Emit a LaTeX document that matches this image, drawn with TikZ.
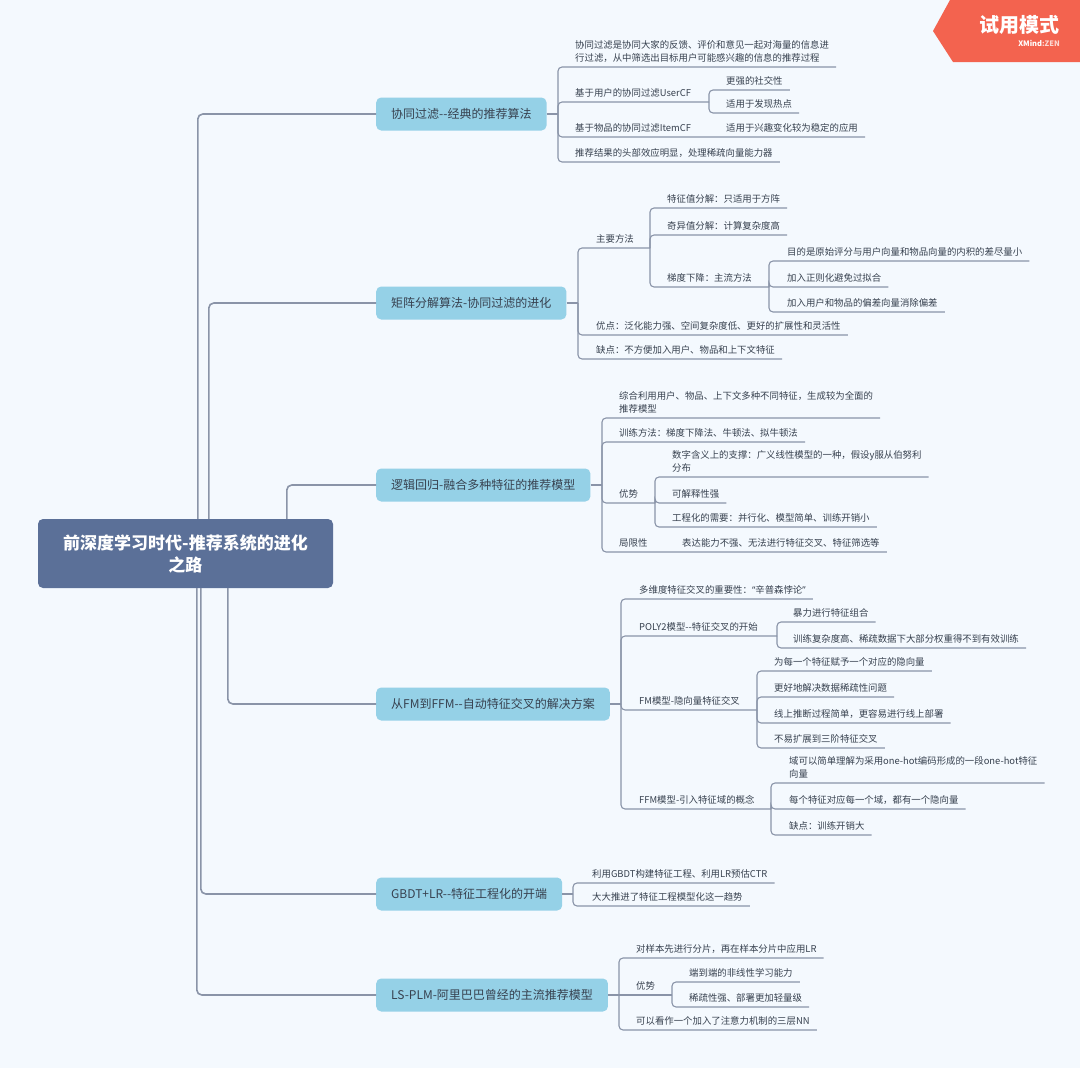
\documentclass[tikz,border=0pt]{standalone}
\usepackage{fontspec}
\setmainfont{Noto Sans CJK SC}
\newfontfamily\latinq{Noto Sans}
\definecolor{bg}{HTML}{F4F9FE}
\definecolor{rootc}{HTML}{5B7098}
\definecolor{mainc}{HTML}{95D1E7}
\definecolor{linec}{HTML}{8A94A8}
\definecolor{txt}{HTML}{37414F}
\definecolor{wm}{HTML}{F3634F}
\tikzset{
 leaf/.style={anchor=south west, inner xsep=7pt, inner ysep=0pt, text depth=5.5pt,
   font=\fontsize{9.4}{13}\selectfont, text=txt, align=left},
 branch/.style={anchor=west, fill=mainc, rounded corners=5pt, minimum height=33pt,
   inner xsep=15pt, inner ysep=0pt, font=\fontsize{12}{14}\selectfont, text=txt},
 rootbox/.style={fill=rootc, rounded corners=5pt, minimum width=295pt, minimum height=69pt,
   inner sep=0pt, font=\fontsize{17}{22}\selectfont\bfseries, text=white, align=center},
 mlink/.style={draw=linec, line width=1.6pt, rounded corners=5pt},
 slink/.style={draw=linec, line width=1.1pt, rounded corners=4pt},
}
\begin{document}
\begin{tikzpicture}[x=1pt,y=-1pt]
\fill[bg] (0,0) rectangle (1080,1068);
\useasboundingbox (0,0) rectangle (1080,1068);

% watermark
\fill[wm] (950,0) -- (1080,0) -- (1080,62) -- (953,62) -- (933,31) -- cycle;
\node[anchor=east, text=white, inner sep=0pt, font=\fontsize{20}{21}\selectfont\bfseries] (wm1) at (1060,25) {试用模式};
\node[anchor=east, text=white, inner sep=0pt, font=\fontsize{7.5}{8}\selectfont\bfseries] (wm2) at (1060,43) {XMind{\color{white!75!wm}:ZEN}};

% root and branches
\node[rootbox] (root) at (185.5,553.5) {前深度学习时代-推荐系统的进化\\之路};
\node[branch] (B1) at (376,114) {协同过滤-{}-经典的推荐算法};
\node[branch] (B2) at (376,303) {矩阵分解算法-协同过滤的进化};
\node[branch] (B3) at (376,485) {逻辑回归-融合多种特征的推荐模型};
\node[branch] (B4) at (376,704) {从FM到FFM-{}-自动特征交叉的解决方案};
\node[branch] (B5) at (376,894) {GBDT+LR-{}-特征工程化的开端};
\node[branch] (B6) at (376,995) {LS-PLM-阿里巴巴曾经的主流推荐模型};

\draw[mlink] ([xshift=160pt]root.north west) |- (B1.west);
\draw[mlink] ([xshift=171pt]root.north west) |- (B2.west);
\draw[mlink] ([xshift=249pt]root.north west) |- (B3.west);
\draw[mlink] ([xshift=190pt]root.south west) |- (B4.west);
\draw[mlink] ([xshift=163pt]root.south west) |- (B5.west);
\draw[mlink] ([xshift=159pt]root.south west) |- (B6.west);

% ---------- branch 1
\coordinate (j1) at (558,114);
\node[leaf] (a1) at (568,67) {协同过滤是协同大家的反馈、评价和意见一起对海量的信息进\\行过滤，从中筛选出目标用户可能感兴趣的信息的推荐过程};
\node[leaf] (a2) at (568,102) {基于用户的协同过滤UserCF};
\coordinate (a2j) at (709,102);
\node[leaf] (a2a) at (719,90) {更强的社交性};
\node[leaf] (a2b) at (719,113) {适用于发现热点};
\node[leaf] (a3) at (568,137) {基于物品的协同过滤ItemCF};
\node[leaf] (a3a) at (719,137) {适用于兴趣变化较为稳定的应用};
\node[leaf] (a4) at (568,162) {推荐结果的头部效应明显，处理稀疏向量能力器};
\draw[slink] (B1.east) -- (j1);
\draw[slink] (j1) |- (a1.south east);
\draw[slink] (j1) |- (a2j);
\draw[slink] (a2j) |- (a2a.south east);
\draw[slink] (a2j) |- (a2b.south east);
\draw[slink] (j1) |- (a3a.south east);
\draw[slink] (j1) |- (a4.south east);

% ---------- branch 2
\coordinate (j2) at (578,303);
\node[leaf] (b1) at (589,248) {主要方法};
\coordinate (b1j) at (650,248);
\node[leaf] (b1a) at (660,208) {特征值分解：只适用于方阵};
\node[leaf] (b1b) at (660,235) {奇异值分解：计算复杂度高};
\node[leaf] (b1c) at (660,287) {梯度下降：主流方法};
\coordinate (b1cj) at (769,287);
\node[leaf] (b1c1) at (780,261) {目的是原始评分与用户向量和物品向量的内积的差尽量小};
\node[leaf] (b1c2) at (780,287) {加入正则化避免过拟合};
\node[leaf] (b1c3) at (780,312) {加入用户和物品的偏差向量消除偏差};
\node[leaf] (b2) at (589,335) {优点：泛化能力强、空间复杂度低、更好的扩展性和灵活性};
\node[leaf] (b3) at (589,359) {缺点：不方便加入用户、物品和上下文特征};
\draw[slink] (B2.east) -- (j2);
\draw[slink] (j2) |- (b1j);
\draw[slink] (b1j) |- (b1a.south east);
\draw[slink] (b1j) |- (b1b.south east);
\draw[slink] (b1j) |- (b1cj);
\draw[slink] (b1cj) |- (b1c1.south east);
\draw[slink] (b1cj) |- (b1c2.south east);
\draw[slink] (b1cj) |- (b1c3.south east);
\draw[slink] (j2) |- (b2.south east);
\draw[slink] (j2) |- (b3.south east);

% ---------- branch 3
\coordinate (j3) at (602,485);
\node[leaf] (c1) at (612,418) {综合利用用户、物品、上下文多种不同特征，生成较为全面的\\推荐模型};
\node[leaf] (c2) at (612,442) {训练方法：梯度下降法、牛顿法、拟牛顿法};
\node[leaf] (c3) at (612,503) {优势};
\coordinate (c3j) at (655,503);
\node[leaf] (c3a) at (665,477) {数字含义上的支撑：广义线性模型的一种，假设y服从伯努利\\分布};
\node[leaf] (c3b) at (665,503) {可解释性强};
\node[leaf] (c3c) at (665,527) {工程化的需要：并行化、模型简单、训练开销小};
\node[leaf] (c4) at (612,552) {局限性};
\node[leaf] (c4a) at (675,552) {表达能力不强、无法进行特征交叉、特征筛选等};
\draw[slink] (B3.east) -- (j3);
\draw[slink] (j3) |- (c1.south east);
\draw[slink] (j3) |- (c2.south east);
\draw[slink] (j3) |- (c3j);
\draw[slink] (c3j) |- (c3a.south east);
\draw[slink] (c3j) |- (c3b.south east);
\draw[slink] (c3j) |- (c3c.south east);
\draw[slink] (j3) |- (c4a.south east);

% ---------- branch 4
\coordinate (j4) at (621,704);
\node[leaf] (d1) at (632,599) {多维度特征交叉的重要性：{\latinq “}辛普森悖论{\latinq ”}};
\node[leaf] (d2) at (632,636) {POLY2模型-{}-特征交叉的开始};
\coordinate (d2j) at (777,636);
\node[leaf] (d2a) at (786,622) {暴力进行特征组合};
\node[leaf] (d2b) at (786,648) {训练复杂度高、稀疏数据下大部分权重得不到有效训练};
\node[leaf] (d3) at (632,710) {FM模型-隐向量特征交叉};
\coordinate (d3j) at (757,710);
\node[leaf] (d3a) at (767,671) {为每一个特征赋予一个对应的隐向量};
\node[leaf] (d3b) at (767,697) {更好地解决数据稀疏性问题};
\node[leaf] (d3c) at (767,723) {线上推断过程简单，更容易进行线上部署};
\node[leaf] (d3d) at (767,748) {不易扩展到三阶特征交叉};
\node[leaf] (d4) at (632,809) {FFM模型-引入特征域的概念};
\coordinate (d4j) at (771,809);
\node[leaf] (d4a) at (782,783) {域可以简单理解为采用one-hot编码形成的一段one-hot特征\\向量};
\node[leaf] (d4b) at (782,809) {每个特征对应每一个域，都有一个隐向量};
\node[leaf] (d4c) at (782,835) {缺点：训练开销大};
\draw[slink] (B4.east) -- (j4);
\draw[slink] (j4) |- (d1.south east);
\draw[slink] (j4) |- (d2j);
\draw[slink] (d2j) |- (d2a.south east);
\draw[slink] (d2j) |- (d2b.south east);
\draw[slink] (j4) |- (d3j);
\draw[slink] (d3j) |- (d3a.south east);
\draw[slink] (d3j) |- (d3b.south east);
\draw[slink] (d3j) |- (d3c.south east);
\draw[slink] (d3j) |- (d3d.south east);
\draw[slink] (j4) |- (d4j);
\draw[slink] (d4j) |- (d4a.south east);
\draw[slink] (d4j) |- (d4b.south east);
\draw[slink] (d4j) |- (d4c.south east);

% ---------- branch 5
\coordinate (j5) at (573,894);
\node[leaf] (e1) at (585,883) {利用GBDT构建特征工程、利用LR预估CTR};
\node[leaf] (e2) at (585,906) {大大推进了特征工程模型化这一趋势};
\draw[slink] (B5.east) -- (j5);
\draw[slink] (j5) |- (e1.south east);
\draw[slink] (j5) |- (e2.south east);

% ---------- branch 6
\coordinate (j6) at (619,995);
\node[leaf] (f1) at (629,958) {对样本先进行分片，再在样本分片中应用LR};
\node[leaf] (f2) at (629,995) {优势};
\coordinate (f2j) at (672,995);
\node[leaf] (f2a) at (682,982) {端到端的非线性学习能力};
\node[leaf] (f2b) at (682,1007) {稀疏性强、部署更加轻量级};
\node[leaf] (f3) at (629,1030) {可以看作一个加入了注意力机制的三层NN};
\draw[slink] (B6.east) -- (j6);
\draw[slink] (j6) |- (f1.south east);
\draw[slink] (j6) -- (f2j);
\draw[slink] (f2j) |- (f2a.south east);
\draw[slink] (f2j) |- (f2b.south east);
\draw[slink] (j6) |- (f3.south east);
\end{tikzpicture}
\end{document}
